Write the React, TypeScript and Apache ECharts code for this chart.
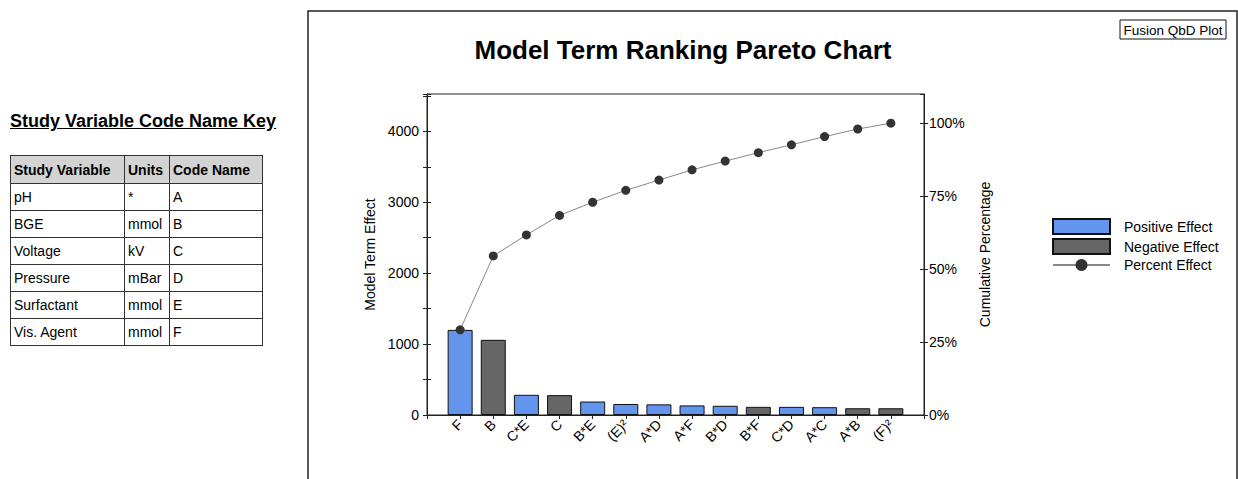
import React, { useEffect, useRef } from "react";
import * as echarts from "echarts";

const categories = ["F", "B", "C*E", "C", "B*E", "(E)²", "A*D", "A*F", "B*D", "B*F", "C*D", "A*C", "A*B", "(F)²"];
const effects = [1200, 1060, 285, 280, 190, 155, 150, 135, 130, 115, 115, 110, 95, 95];
const effectSign = ["+", "-", "+", "-", "+", "+", "+", "+", "+", "-", "+", "+", "-", "-"];
const cumulativePct = [29.2, 54.5, 61.7, 68.4, 72.9, 77.0, 80.5, 84.0, 87.0, 89.9, 92.6, 95.4, 98.0, 100];
const leftTicks = [0, 1000, 2000, 3000, 4000];
const rightTicks = ["0%", "25%", "50%", "75%", "100%"];

const keyHeader = ["Study Variable", "Units", "Code Name"];
const keyVariables = ["pH", "BGE", "Voltage", "Pressure", "Surfactant", "Vis. Agent"];
const keyUnits = ["*", "mmol", "kV", "mBar", "mmol", "mmol"];
const keyCodes = ["A", "B", "C", "D", "E", "F"];

const FONT = "'Liberation Sans', Arial, sans-serif";
const AX = "#222";

export default function App() {
  const ref = useRef<HTMLDivElement>(null);

  useEffect(() => {
    if (!ref.current) return;
    const chart = echarts.init(ref.current, undefined, { renderer: "svg" });
    const total = effects.reduce((a, b) => a + b, 0);
    const leftMax = Math.round(total * 1.1);
    const pos = effects.map((v, i) => (effectSign[i] === "+" ? [i, v] : [i, null]));
    const neg = effects.map((v, i) => (effectSign[i] === "-" ? [i, v] : [i, null]));
    const barW = 25;

    const leftBase = {
      type: "value",
      min: 0,
      max: leftMax,
      interval: 1000,
      splitLine: { show: false },
    };
    const rightBase = {
      type: "value",
      min: 0,
      max: 110,
      interval: 25,
      position: "right",
      splitLine: { show: false },
    };

    chart.setOption({
      animation: false,
      textStyle: { fontFamily: FONT },
      title: {
        text: "Model Term Ranking Pareto Chart",
        left: 678,
        top: 32,
        textAlign: "center",
        textStyle: { fontSize: 26, fontWeight: "bold", color: "#000", fontFamily: FONT },
      },
      legend: {
        orient: "vertical",
        left: 1047,
        top: 213,
        itemWidth: 57,
        itemHeight: 15,
        itemGap: 3,
        data: [
          { name: "Positive Effect", icon: "rect" },
          { name: "Negative Effect", icon: "rect" },
          { name: "Percent Effect" },
        ],
        textStyle: { fontSize: 14, color: "#000", padding: [0, 0, 0, 9], fontFamily: FONT },
      },
      grid: {
        left: 427,
        right: 314,
        top: 94,
        bottom: 64,
        show: true,
        borderColor: AX,
        borderWidth: 1,
        containLabel: false,
      },
      xAxis: {
        type: "value",
        min: -1,
        max: 14,
        interval: 1,
        splitLine: { show: false },
        axisLine: { show: true, onZero: false, lineStyle: { color: AX } },
        axisTick: { show: true, length: 4, lineStyle: { color: AX } },
        axisLabel: {
          rotate: 45,
          fontSize: 14,
          color: "#000",
          margin: 7,
          showMinLabel: true,
          showMaxLabel: true,
          formatter: (v: number) => (v >= 0 && v < categories.length ? categories[v] : ""),
        },
      },
      yAxis: [
        {
          ...leftBase,
          name: "Model Term Effect",
          nameLocation: "middle",
          nameRotate: 90,
          nameGap: 50,
          nameTextStyle: { fontSize: 14, color: "#000" },
          axisLine: { show: true, onZero: false, lineStyle: { color: AX } },
          axisTick: { show: true, length: 4, lineStyle: { color: AX } },
          minorTick: { show: true, splitNumber: 2, length: 4, lineStyle: { color: AX } },
          axisLabel: {
            fontSize: 14,
            color: "#000",
            margin: 8,
            showMaxLabel: false,
            formatter: (v: number) => (leftTicks.includes(v) ? String(v) : ""),
          },
        },
        {
          ...rightBase,
          name: "Cumulative Percentage",
          nameLocation: "middle",
          nameRotate: 90,
          nameGap: 54,
          nameTextStyle: { fontSize: 14, color: "#000" },
          axisLine: { show: true, onZero: false, lineStyle: { color: AX } },
          axisTick: { show: true, length: 4, lineStyle: { color: AX } },
          axisLabel: {
            fontSize: 14,
            color: "#000",
            margin: 5,
            showMaxLabel: false,
            formatter: (v: number) => {
              const s = v + "%";
              return rightTicks.includes(s) ? s : "";
            },
          },
        },
        {
          ...leftBase,
          position: "left",
          axisLine: { show: false, onZero: false },
          axisTick: { show: true, inside: true, length: 4, lineStyle: { color: AX } },
          minorTick: { show: true, splitNumber: 2, length: 4, lineStyle: { color: AX } },
          axisLabel: { show: false },
        },
        {
          ...rightBase,
          axisLine: { show: false, onZero: false },
          axisTick: { show: true, inside: true, length: 4, lineStyle: { color: AX } },
          axisLabel: { show: false },
        },
      ],
      series: [
        {
          name: "Positive Effect",
          type: "bar",
          data: pos,
          barWidth: barW,
          barGap: "-100%",
          itemStyle: { color: "#6495ED", borderColor: "#111", borderWidth: 1 },
        },
        {
          name: "Negative Effect",
          type: "bar",
          data: neg,
          barWidth: barW,
          barGap: "-100%",
          itemStyle: { color: "#666666", borderColor: "#111", borderWidth: 1 },
        },
        {
          name: "Percent Effect",
          type: "line",
          yAxisIndex: 1,
          data: cumulativePct.map((v, i) => [i, v]),
          symbol: "circle",
          symbolSize: 9,
          lineStyle: { color: "#888", width: 1 },
          itemStyle: { color: "#333" },
          z: 5,
        },
      ],
      graphic: [
        {
          type: "rect",
          shape: { x: 308, y: 11, width: 929, height: 480 },
          style: { fill: "none", stroke: "#222", lineWidth: 1.5 },
          silent: true,
        },
        {
          type: "rect",
          shape: { x: 1120, y: 20, width: 106, height: 19 },
          style: { fill: "#fff", stroke: "#111", lineWidth: 1 },
          silent: true,
        },
        {
          type: "text",
          x: 1173,
          y: 30,
          style: {
            text: "Fusion QbD Plot",
            fontSize: 13.5,
            fontFamily: FONT,
            fill: "#000",
            align: "center",
            verticalAlign: "middle",
          },
          silent: true,
        },
      ],
    });
    return () => chart.dispose();
  }, []);

  const cell: React.CSSProperties = {
    border: "1px solid #333",
    padding: "0 3px",
    height: 26,
    fontSize: 14,
    textAlign: "left",
    whiteSpace: "nowrap",
    overflow: "hidden",
  };

  return (
    <div style={{ position: "absolute", left: 0, top: 0, width: 1238, height: 479, background: "#fff", fontFamily: FONT }}>
      <div ref={ref} style={{ position: "absolute", left: 0, top: 0, width: 1238, height: 479 }} />
      <div
        style={{
          position: "absolute",
          left: 10,
          top: 111,
          fontSize: 18,
          fontWeight: "bold",
          textDecoration: "underline",
          color: "#000",
          whiteSpace: "nowrap",
        }}
      >
        Study Variable Code Name Key
      </div>
      <table
        style={{
          position: "absolute",
          left: 10,
          top: 155,
          width: 252,
          tableLayout: "fixed",
          borderCollapse: "collapse",
          border: "1px solid #333",
          fontFamily: FONT,
          color: "#000",
        }}
      >
        <colgroup>
          <col style={{ width: 114 }} />
          <col style={{ width: 45 }} />
          <col style={{ width: 93 }} />
        </colgroup>
        <thead>
          <tr style={{ background: "#d3d3d3" }}>
            {keyHeader.map((h) => (
              <th key={h} style={{ ...cell, fontWeight: "bold", height: 27 }}>
                {h}
              </th>
            ))}
          </tr>
        </thead>
        <tbody>
          {keyVariables.map((v, i) => (
            <tr key={v}>
              <td style={cell}>{v}</td>
              <td style={cell}>{keyUnits[i]}</td>
              <td style={cell}>{keyCodes[i]}</td>
            </tr>
          ))}
        </tbody>
      </table>
    </div>
  );
}
